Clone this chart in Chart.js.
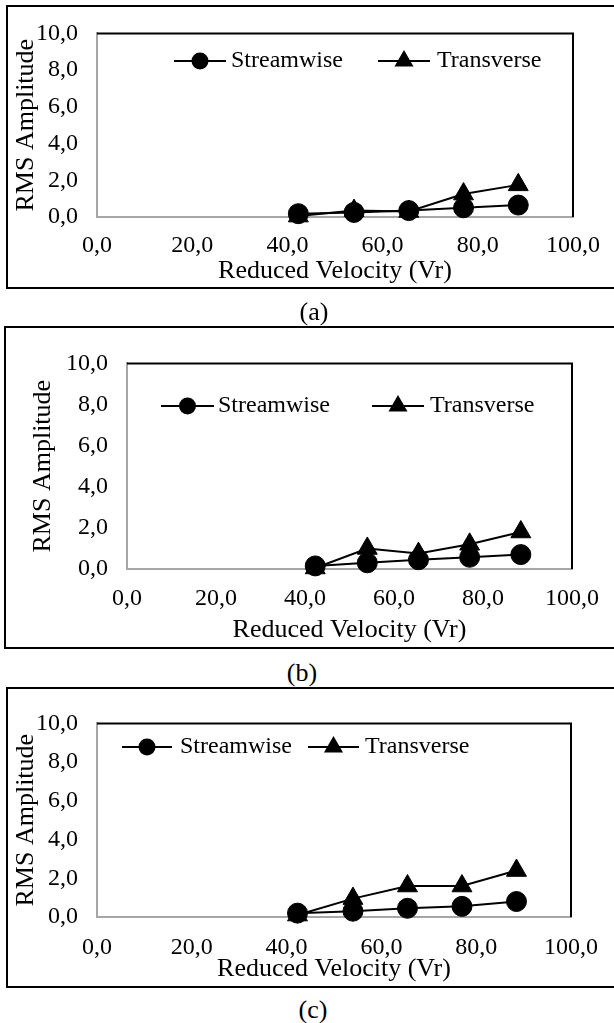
<!DOCTYPE html>
<html>
<head>
<meta charset="utf-8">
<script src="https://cdn.jsdelivr.net/npm/chart.js@4/dist/chart.umd.min.js"></script>
<style>
  html, body { margin:0; padding:0; background:#fff; }
  body { width:614px; height:1023px; overflow:hidden; position:relative; font-family:'Liberation Serif','Times New Roman',serif; }
  .box { position:absolute; border:2px solid #000; box-sizing:border-box; width:720px; }
  canvas { position:absolute; left:0; }
  .cap { position:absolute; font-size:26px; line-height:26px; transform:translate(-50%,-50%); color:#000; white-space:nowrap; }
</style>
</head>
<body>
<div class="box" style="left:6px;top:5px;height:284px;"></div>
<div class="box" style="left:4px;top:326px;height:323px;"></div>
<div class="box" style="left:6px;top:687px;height:301px;"></div>
<canvas id="cA" width="614" height="300" style="top:0px;width:614px;height:300px;"></canvas>
<canvas id="cB" width="614" height="320" style="top:330px;width:614px;height:320px;"></canvas>
<canvas id="cC" width="614" height="300" style="top:690px;width:614px;height:300px;"></canvas>
<div class="cap" style="left:314px;top:312px;">(a)</div>
<div class="cap" style="left:302px;top:673px;">(b)</div>
<div class="cap" style="left:313px;top:1010px;">(c)</div>
<script>
// ---- data ----
const seriesNames = ['Streamwise', 'Transverse'];
const vr = [42.3, 54.0, 65.5, 77.0, 88.5];
const streamA = [0.18, 0.25, 0.35, 0.5, 0.65];
const transA  = [0.05, 0.35, 0.3, 1.25, 1.75];
const streamB = [0.15, 0.3, 0.45, 0.57, 0.7];
const transB  = [0.05, 1.0, 0.75, 1.2, 1.8];
const streamC = [0.2, 0.3, 0.45, 0.55, 0.8];
const transC  = [0.1, 0.95, 1.6, 1.6, 2.4];
const xTicks = [0, 20, 40, 60, 80, 100];
const yTicks = [0, 2, 4, 6, 8, 10];
const xTitle = 'Reduced Velocity (Vr)';
const yTitle = 'RMS Amplitude';

Chart.defaults.font.family = "'Liberation Serif','Times New Roman',serif";
Chart.defaults.color = '#000';

const fmt = v => Number(v).toFixed(1).replace('.', ',');

const framePlugin = {
  id: 'frame',
  beforeDatasetsDraw(chart) {
    const {ctx, chartArea: a} = chart;
    ctx.save();
    ctx.strokeStyle = '#000';
    ctx.lineWidth = 2;
    ctx.beginPath();
    ctx.moveTo(a.left, a.top);
    ctx.lineTo(a.right, a.top);
    ctx.lineTo(a.right, a.bottom);
    ctx.stroke();
    ctx.restore();
  }
};

const legendPlugin = {
  id: 'exLegend',
  afterDraw(chart, args, opts) {
    const ctx = chart.ctx;
    ctx.save();
    chart.data.datasets.forEach((ds, i) => {
      const it = opts.items[i];
      const y = opts.y;
      ctx.strokeStyle = '#000';
      ctx.lineWidth = 2;
      ctx.beginPath();
      ctx.moveTo(it.x0, y);
      ctx.lineTo(it.x1, y);
      ctx.stroke();
      ctx.fillStyle = '#000';
      Chart.helpers.drawPoint(ctx, {pointStyle: ds.pointStyle, radius: ds.pointStyle === 'triangle' ? 9 : 7.5, rotation: 0, borderWidth: 1}, (it.x0 + it.x1) / 2, y);
      ctx.fillStyle = '#000';
      ctx.font = "24px 'Liberation Serif','Times New Roman',serif";
      ctx.textBaseline = 'middle';
      ctx.textAlign = 'left';
      ctx.fillText(ds.label, it.xt, y);
    });
    ctx.restore();
  }
};

function makeChart(id, stream, trans, L) {
  const mk = (label, vals, style, r) => ({
    label,
    data: vr.map((x, i) => ({x, y: vals[i]})),
    showLine: true,
    pointStyle: style,
    pointRadius: r,
    pointHoverRadius: r,
    borderColor: '#000',
    backgroundColor: '#000',
    borderWidth: 2,
    pointBorderWidth: 1,
    clip: false
  });
  return new Chart(document.getElementById(id), {
    type: 'scatter',
    data: {
      datasets: [
        mk(seriesNames[0], stream, 'circle', 10),
        mk(seriesNames[1], trans, 'triangle', 11.5)
      ]
    },
    plugins: [framePlugin, legendPlugin],
    options: {
      responsive: false,
      animation: false,
      devicePixelRatio: 1,
      layout: { padding: { top: L.padTop, right: L.padRight, left: 0, bottom: 0 } },
      plugins: {
        legend: { display: false },
        tooltip: { enabled: false },
        exLegend: L.legend
      },
      scales: {
        x: {
          type: 'linear',
          min: xTicks[0], max: xTicks[xTicks.length - 1],
          afterBuildTicks: s => { s.ticks = xTicks.map(v => ({value: v})); },
          grid: { display: false, drawTicks: false },
          border: { display: true, color: '#a6a6a6', width: 2 },
          ticks: { callback: fmt, font: { size: 24 }, padding: L.xTickPad, maxRotation: 0, autoSkip: false },
          title: { display: true, text: xTitle, font: { size: 26 }, padding: { top: 0, bottom: L.xTitlePad } },
          afterFit: s => { s.height = L.xHeight; }
        },
        y: {
          type: 'linear',
          min: yTicks[0], max: yTicks[yTicks.length - 1],
          afterBuildTicks: s => { s.ticks = yTicks.map(v => ({value: v})); },
          grid: { display: false, drawTicks: false },
          border: { display: true, color: '#a6a6a6', width: 2 },
          ticks: { callback: fmt, font: { size: 24 }, padding: 19, autoSkip: false },
          title: { display: true, text: yTitle, font: { size: 26 }, padding: { top: L.yTitlePad, bottom: 0 } },
          afterFit: s => { s.width = L.yWidth; }
        }
      }
    }
  });
}

makeChart('cA', streamA, transA, {
  padTop: 21, padRight: 38, yWidth: 97, xHeight: 83, xTickPad: 14, xTitlePad: 13, yTitlePad: 11,
  legend: { y: 61, items: [ {x0: 174, x1: 226, xt: 231}, {x0: 378, x1: 430, xt: 437} ] }
});
makeChart('cB', streamB, transB, {
  padTop: 13, padRight: 37, yWidth: 127, xHeight: 81, xTickPad: 15, xTitlePad: 4, yTitlePad: 28,
  legend: { y: 76, items: [ {x0: 161, x1: 214, xt: 218}, {x0: 372, x1: 424, xt: 430} ] }
});
makeChart('cC', streamC, transC, {
  padTop: 13, padRight: 38, yWidth: 97, xHeight: 73, xTickPad: 16, xTitlePad: 5, yTitlePad: 11,
  legend: { y: 57, items: [ {x0: 122, x1: 172, xt: 180}, {x0: 308, x1: 359, xt: 365} ] }
});
</script>
</body>
</html>
